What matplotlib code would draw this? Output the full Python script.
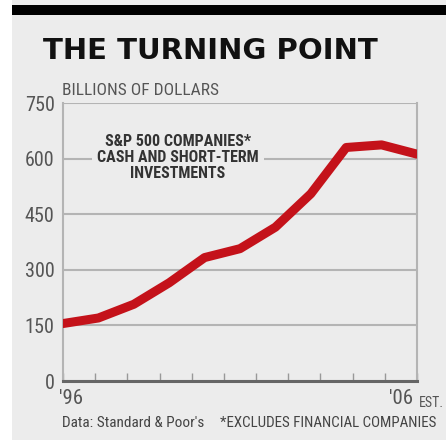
import matplotlib.pyplot as plt
import numpy as np

years = [1996, 1997, 1998, 1999, 2000, 2001, 2002, 2003, 2004, 2005, 2006]
cash = [155, 170, 207, 265, 333, 357, 415, 505, 630, 637, 612]
yticks = [0, 150, 300, 450, 600, 750]

bg = '#ececec'
red = '#c4121a'
grey = '#555555'
gridc = '#b4b4b4'
narrow = ['Roboto Condensed', 'Liberation Sans Narrow', 'Roboto', 'DejaVu Sans']

fig = plt.figure(figsize=(4.46, 4.40), dpi=100)
fig.patch.set_facecolor('white')
# grey panel and black top bar
fig.patches.append(plt.Rectangle((12 / 446, 0.0), 1, 1, transform=fig.transFigure,
                                 facecolor=bg, edgecolor='none', zorder=-2))
fig.patches.append(plt.Rectangle((12 / 446, 1 - 15 / 440), 1, 10 / 440, transform=fig.transFigure,
                                 facecolor='black', edgecolor='none', zorder=-1))

ax = fig.add_axes([63 / 446, 1 - 381 / 440, 354 / 446, 278 / 440])
ax.set_facecolor(bg)
ax.plot(years, cash, color=red, lw=6.5, solid_capstyle='round', solid_joinstyle='round', zorder=3)

ax.set_xlim(1996, 2006)
ax.set_ylim(0, 750)
ax.set_yticks(yticks)
ax.set_yticklabels([str(v) for v in yticks], family=narrow, fontsize=14.5, color=grey)
ax.tick_params(axis='y', length=0, pad=6)
ax.grid(axis='y', color=gridc, lw=1.5)
ax.set_axisbelow(True)

ax.set_xticks(np.linspace(1996, 2006, 12))
ax.set_xticklabels([])
ax.tick_params(axis='x', direction='in', length=6, width=1, color='#999999')

ax.spines['top'].set_visible(False)
for side in ['left', 'right']:
    ax.spines[side].set_color(gridc)
    ax.spines[side].set_linewidth(1.5)
ax.spines['bottom'].set_color('#666666')
ax.spines['bottom'].set_linewidth(2.2)

ax.text(-0.012, -0.03, "'96", transform=ax.transAxes, ha='left', va='top',
        family=narrow, fontsize=15, color=grey)
ax.text(0.99, -0.03, "'06", transform=ax.transAxes, ha='right', va='top',
        family=narrow, fontsize=15, color=grey)
ax.text(1.005, -0.055, "EST.", transform=ax.transAxes, ha='left', va='top',
        family=narrow, fontsize=10, color=grey)

ax.text(0.325, 0.805, 'S&P 500 COMPANIES*\nCASH AND SHORT-TERM\nINVESTMENTS',
        transform=ax.transAxes, ha='center', va='center', family=narrow,
        fontsize=11.5, fontweight='bold', color='#333333', linespacing=1.1,
        bbox=dict(facecolor=bg, edgecolor='none', pad=4), zorder=4)

fig.text(43 / 446, 1 - 59 / 440, 'THE TURNING POINT', ha='left', va='baseline',
         family=['DejaVu Sans'], fontsize=21, fontweight='bold', color='#111111')
fig.text(62 / 446, 1 - 95 / 440, 'BILLIONS OF DOLLARS', ha='left', va='baseline',
         family=narrow, fontsize=12.5, color=grey)
fig.text(62 / 446, 1 - 427 / 440, "Data: Standard & Poor's", ha='left', va='baseline',
         family=narrow, fontsize=11, color='#444444')
fig.text(220 / 446, 1 - 427 / 440, '*EXCLUDES FINANCIAL COMPANIES', ha='left', va='baseline',
         family=narrow, fontsize=10.8, color='#444444')

fig.savefig('out.png', dpi=100, facecolor=fig.get_facecolor())
